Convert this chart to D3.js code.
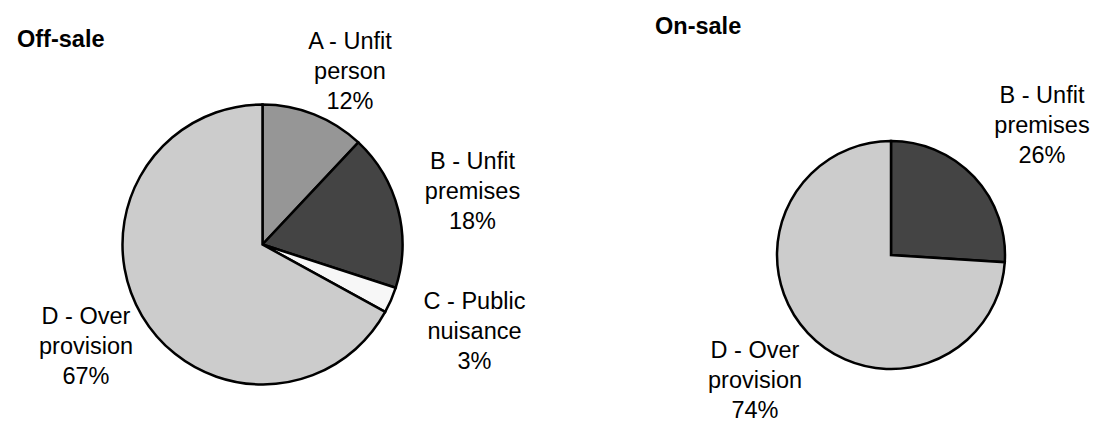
<!DOCTYPE html>
<html>
<head>
<meta charset="utf-8">
<script src="https://cdn.jsdelivr.net/npm/d3@7"></script>
<style>
  html, body { margin: 0; padding: 0; background: #fff; }
  svg { display: block; font-family: "Liberation Sans", Arial, sans-serif; }
</style>
</head>
<body>
<svg id="container" width="1093" height="421"></svg>
<script>
// Reasons for refusal, share of cases
const categories = ["A - Unfit person", "B - Unfit premises", "C - Public nuisance", "D - Over provision"];
const labelLines = [["A - Unfit", "person"], ["B - Unfit", "premises"], ["C - Public", "nuisance"], ["D - Over", "provision"]];
const offSaleValues = [12, 18, 3, 67];
const onSaleValues = [0, 26, 0, 74];
const sliceColors = ["#969696", "#444444", "#f7f7f7", "#cccccc"];

const svg = d3.select("#container");
const fontSize = 23.5;
const lineHeight = 30;
const percent = d3.format(".0%");
const color = d3.scaleOrdinal().domain(categories).range(sliceColors);

// Draw one pie with its title and outside labels.
// labelOffsets: per category, offset of the label's first baseline from the pie centre
function drawPie(title, values, cx, cy, radius, titlePos, labelOffsets)
{
    var total = d3.sum(values);
    var data = categories.map((c, i) => ({ category: c, index: i, value: values[i] }))
        .filter(d => d.value > 0);

    var pie = d3.pie().sort(null).value(d => d.value);
    var arc = d3.arc().innerRadius(0).outerRadius(radius);

    svg.append("text")
        .attr("x", titlePos[0]).attr("y", titlePos[1])
        .attr("font-size", fontSize).attr("font-weight", "bold")
        .text(title);

    var g = svg.append("g").attr("transform", "translate(" + cx + "," + cy + ")");
    g.selectAll("path").data(pie(data)).join("path")
        .attr("d", arc)
        .attr("fill", d => color(d.data.category))
        .attr("stroke", "#000")
        .attr("stroke-width", 2.5)
        .attr("stroke-linejoin", "miter");

    var labels = g.selectAll("text.label").data(pie(data)).join("text")
        .attr("class", "label")
        .attr("text-anchor", "middle")
        .attr("font-size", fontSize)
        .attr("fill", "#000");
    labels.each(function(d)
    {
        var off = labelOffsets[d.data.index];
        var lines = labelLines[d.data.index].concat([percent(d.data.value / total)]);
        d3.select(this).selectAll("tspan").data(lines).join("tspan")
            .attr("x", off[0])
            .attr("y", (l, i) => off[1] + i * lineHeight)
            .text(l => l);
    });
}

drawPie("Off-sale", offSaleValues, 262.5, 244.5, 140, [17, 47],
    [[87.5, -195.5], [210, -75.5], [212, 64], [-176.5, 79.5]]);
drawPie("On-sale", onSaleValues, 891, 255, 114, [655, 34],
    [[0, 0], [151, -152], [0, 0], [-136, 103]]);
</script>
</body>
</html>
